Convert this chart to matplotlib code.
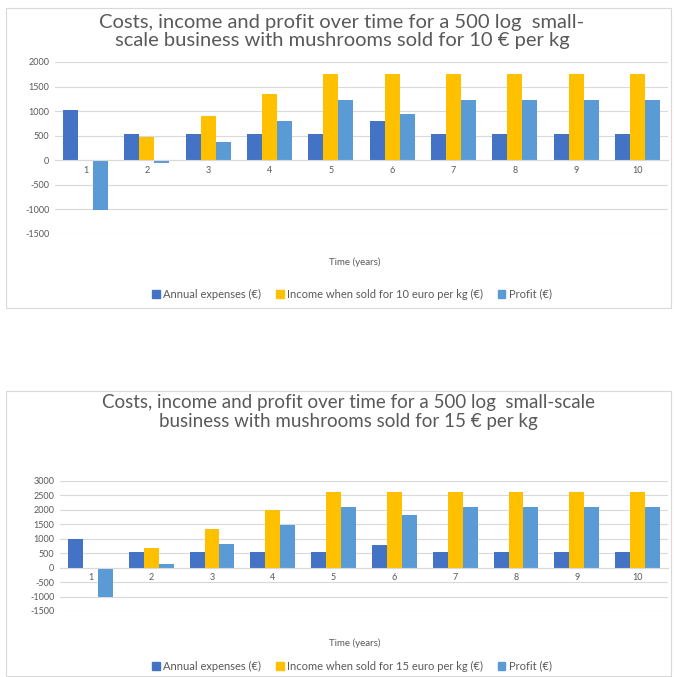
import matplotlib
matplotlib.use("Agg")
import matplotlib.pyplot as plt
import numpy as np
from matplotlib.patches import Rectangle, Patch

plt.rcParams['font.family'] = ['Lato', 'DejaVu Sans']

years = ["1", "2", "3", "4", "5", "6", "7", "8", "9", "10"]

# Chart 1: 10 euro per kg
expenses_10 = [1020, 545, 545, 545, 545, 790, 545, 545, 545, 545]
income_10 = [0, 470, 905, 1350, 1750, 1750, 1750, 1750, 1750, 1750]
profit_10 = [-1020, -60, 365, 800, 1220, 950, 1220, 1220, 1220, 1220]

# Chart 2: 15 euro per kg
expenses_15 = [1000, 545, 545, 545, 545, 800, 545, 545, 545, 545]
income_15 = [0, 665, 1350, 2010, 2620, 2620, 2620, 2620, 2620, 2620]
profit_15 = [-1000, 130, 830, 1480, 2100, 1810, 2100, 2100, 2100, 2100]

title_10 = "Costs, income and profit over time for a 500 log  small-\nscale business with mushrooms sold for 10 € per kg"
title_15 = "Costs, income and profit over time for a 500 log  small-scale\nbusiness with mushrooms sold for 15 € per kg"
legend_10 = ["Annual expenses (€)", "Income when sold for 10 euro per kg (€)", "Profit (€)"]
legend_15 = ["Annual expenses (€)", "Income when sold for 15 euro per kg (€)", "Profit (€)"]
yticks_10 = [-1500, -1000, -500, 0, 500, 1000, 1500, 2000]
yticks_15 = [-1500, -1000, -500, 0, 500, 1000, 1500, 2000, 2500, 3000]

C_EXP = "#4472C4"
C_INC = "#FFC000"
C_PRO = "#5B9BD5"
GRID = "#D9D9D9"
TXT = "#595959"

W = H = 677
fig = plt.figure(figsize=(W / 100, H / 100), dpi=100)
fig.patch.set_facecolor("white")


def px_axes(l, t, r, b):
    return fig.add_axes([l / W, 1 - b / H, (r - l) / W, (b - t) / H])


def frame(l, t, r, b):
    fig.patches.append(Rectangle((l / W, 1 - b / H), (r - l) / W, (b - t) / H,
                                 transform=fig.transFigure, fill=False,
                                 edgecolor=GRID, linewidth=0.8))


def draw(ax, exp, inc, pro, yticks, title_xy, title, title_fs, title_ls,
         xlabel_y, legend_xy, labels):
    x = np.arange(len(years))
    bw = 0.245
    ax.bar(x - bw, exp, bw, color=C_EXP, label=labels[0], zorder=3)
    ax.bar(x, inc, bw, color=C_INC, label=labels[1], zorder=3)
    ax.bar(x + bw, pro, bw, color=C_PRO, label=labels[2], zorder=3)
    ax.set_xlim(-0.5, len(years) - 0.5)
    ax.set_ylim(yticks[0], yticks[-1])
    ax.grid(axis="y", color=GRID, linewidth=0.8, zorder=0)
    for s in ["top", "right", "left"]:
        ax.spines[s].set_visible(False)
    ax.spines["bottom"].set_position(("data", 0))
    ax.spines["bottom"].set_color(GRID)
    ax.spines["bottom"].set_zorder(4)
    ax.set_yticks(yticks)
    ax.set_yticklabels([str(v) for v in yticks])
    ax.set_xticks(x)
    ax.set_xticklabels(years)
    ax.tick_params(axis="both", length=0, pad=4, labelsize=6.5, labelcolor=TXT)
    fig.text(title_xy[0] / W, 1 - title_xy[1] / H, title, ha="center", va="center",
             fontsize=title_fs, color=TXT, linespacing=title_ls)
    fig.text(355 / W, 1 - xlabel_y / H, "Time (years)", ha="center", va="center",
             fontsize=7, color=TXT)
    handles = [Patch(color=C_EXP), Patch(color=C_INC), Patch(color=C_PRO)]
    fig.legend(handles, labels, loc="center",
               bbox_to_anchor=(legend_xy[0] / W, 1 - legend_xy[1] / H),
               ncol=3, frameon=False, fontsize=8, handlelength=0.7, handleheight=0.7,
               handletextpad=0.3, columnspacing=1.3, labelcolor=TXT,
               borderaxespad=0, borderpad=0)


frame(6, 8, 671, 308)
frame(6, 391, 671, 676)

ax1 = px_axes(55, 62, 668, 234)
draw(ax1, expenses_10, income_10, profit_10, yticks_10, (342, 31.5), title_10, 14.5, 1.12,
     262, (352, 294), legend_10)

ax2 = px_axes(60, 481, 668, 611)
draw(ax2, expenses_15, income_15, profit_15, yticks_15, (348, 412), title_15, 13.5, 1.08,
     643, (352, 666), legend_15)

fig.savefig("out.png", dpi=100, facecolor="white")
